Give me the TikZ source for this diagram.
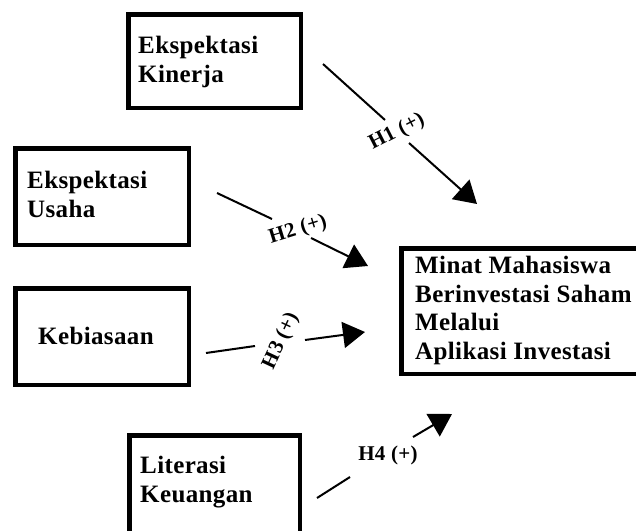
\documentclass[tikz,border=0pt]{standalone}
\usepackage{fontspec}
\setmainfont{Liberation Serif}[LetterSpace=1.5]
\usetikzlibrary{arrows.meta}
\begin{document}
\begin{tikzpicture}[x=1pt,y=-1pt,
  varbox/.style={draw=black,line width=4.5pt},
  boxtext/.style={anchor=base west,align=left,inner sep=0pt,font=\bfseries\fontsize{25}{28.5}\selectfont},
  hyp/.style={inner sep=1pt,font=\bfseries\fontsize{21}{24}\selectfont},
  conn/.style={line width=2pt},
  arr/.style={line width=2pt,-{Triangle[length=22pt,width=26pt]}}]
\useasboundingbox[fill=white] (0,0) rectangle (636,530);
% boxes
\draw[varbox] (128.25,14.25) rectangle (300.75,107.75);
\draw[varbox] (15.25,148.25) rectangle (188.75,244.75);
\draw[varbox] (15.25,288.25) rectangle (188.75,384.75);
\draw[varbox] (129.25,435.25) rectangle (299.75,560);
\draw[varbox] (401.25,248.25) rectangle (660,373.75);
% texts (anchored at the baseline of the last line)
\node[boxtext] (ek) at (138,82) {Ekspektasi\\Kinerja};
\node[boxtext] (eu) at (27,217) {Ekspektasi\\Usaha};
\node[boxtext] (kb) at (38,344) {Kebiasaan};
\node[boxtext] (lk) at (140,502) {Literasi\\Keuangan};
\node[boxtext] (mm) at (415,359) {Minat Mahasiswa\\Berinvestasi Saham\\Melalui\\Aplikasi Investasi};
% connector points
\coordinate (a1) at (323,64);  \coordinate (b1) at (385,120);
\coordinate (c1) at (409,143); \coordinate (e1) at (477,204);
\coordinate (a2) at (217,193); \coordinate (b2) at (272,219);
\coordinate (c2) at (311,238); \coordinate (e2) at (368,266);
\coordinate (a3) at (206,353); \coordinate (b3) at (255,346);
\coordinate (c3) at (305,340); \coordinate (e3) at (365,332);
\coordinate (a4) at (317,498); \coordinate (b4) at (350,477);
\coordinate (c4) at (413,437); \coordinate (e4) at (452,414);
\draw[conn] (a1) -- (b1); \draw[arr] (c1) -- (e1);
\draw[conn] (a2) -- (b2); \draw[arr] (c2) -- (e2);
\draw[conn] (a3) -- (b3); \draw[arr] (c3) -- (e3);
\draw[conn] (a4) -- (b4); \draw[arr] (c4) -- (e4);
% labels
\node[hyp,rotate=27] (h1) at (397,132) {H1 (+)};
\node[hyp,rotate=17] (h2) at (298,230) {H2 (+)};
\node[hyp,rotate=65] (h3) at (281,341) {H3 (+)};
\node[hyp] (h4) at (388,455) {H4 (+)};
\end{tikzpicture}
\end{document}
